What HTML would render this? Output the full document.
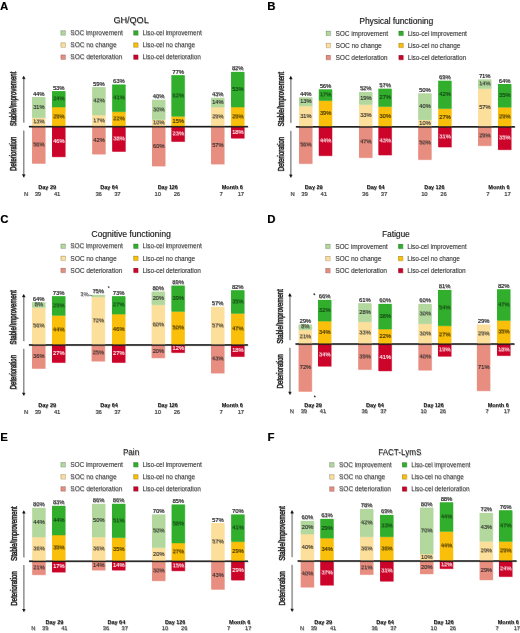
<!DOCTYPE html>
<html><head><meta charset="utf-8"><style>
html,body{margin:0;padding:0;background:#fff;}
body{width:520px;height:633px;overflow:hidden;}
svg{display:block;font-family:"Liberation Sans", sans-serif;}
#wrap{will-change:transform;width:520px;height:633px;}
</style></head><body><div id="wrap">
<svg width="520" height="633" viewBox="0 0 520 633">
<rect x="0" y="0" width="520" height="633" fill="#fff"/>
<g id="cc" transform="translate(-0.25,-0.25)">
<text x="0.30" y="10.00" font-size="11.2" fill="#000" font-weight="bold">A</text>
<text x="131.30" y="23.70" font-size="9.3" fill="#1a1a1a" text-anchor="middle" textLength="35.30" lengthAdjust="spacingAndGlyphs">GH/QOL</text>
<rect x="61.10" y="30.90" width="4.40" height="4.40" fill="#b2d89e" stroke="rgba(0,0,0,0.3)" stroke-width="0.5"/>
<text x="70.60" y="35.40" font-size="6.5" fill="#3a3a3a" textLength="52.50" lengthAdjust="spacingAndGlyphs">SOC improvement</text>
<rect x="133.80" y="30.90" width="4.40" height="4.40" fill="#30ae2c" stroke="rgba(0,0,0,0.3)" stroke-width="0.5"/>
<text x="142.70" y="35.40" font-size="6.5" fill="#3a3a3a" textLength="59.20" lengthAdjust="spacingAndGlyphs">Liso-cel improvement</text>
<rect x="61.10" y="43.00" width="4.40" height="4.40" fill="#fddf9c" stroke="rgba(0,0,0,0.3)" stroke-width="0.5"/>
<text x="70.60" y="47.50" font-size="6.5" fill="#3a3a3a" textLength="46.20" lengthAdjust="spacingAndGlyphs">SOC no change</text>
<rect x="133.80" y="43.00" width="4.40" height="4.40" fill="#f9bf0a" stroke="rgba(0,0,0,0.3)" stroke-width="0.5"/>
<text x="142.70" y="47.50" font-size="6.5" fill="#3a3a3a" textLength="52.50" lengthAdjust="spacingAndGlyphs">Liso-cel no change</text>
<rect x="61.10" y="55.10" width="4.40" height="4.40" fill="#e88e80" stroke="rgba(0,0,0,0.3)" stroke-width="0.5"/>
<text x="70.60" y="59.60" font-size="6.5" fill="#3a3a3a" textLength="51.80" lengthAdjust="spacingAndGlyphs">SOC deterioration</text>
<rect x="133.80" y="55.10" width="4.40" height="4.40" fill="#cc0429" stroke="rgba(0,0,0,0.3)" stroke-width="0.5"/>
<text x="142.70" y="59.60" font-size="6.5" fill="#3a3a3a" textLength="58.30" lengthAdjust="spacingAndGlyphs">Liso-cel deterioration</text>
<line x1="23.90" y1="78.50" x2="23.90" y2="122.80" stroke="#8c8c8c" stroke-width="1.2"/>
<line x1="23.90" y1="130.70" x2="23.90" y2="175.00" stroke="#8c8c8c" stroke-width="1.2"/>
<path d="M22.30 79.00 L23.90 75.90 L25.50 79.00 Z" fill="#111"/>
<path d="M22.30 174.60 L23.90 177.70 L25.50 174.60 Z" fill="#111"/>
<text x="16.70" y="99.10" font-size="8.6" fill="#222" stroke="#222" stroke-width="0.35" text-anchor="middle" textLength="54.4" lengthAdjust="spacingAndGlyphs" transform="rotate(-90 16.70 99.10)">Stable/Improvement</text>
<text x="16.70" y="154.00" font-size="8.6" fill="#222" stroke="#222" stroke-width="0.35" text-anchor="middle" textLength="34.2" lengthAdjust="spacingAndGlyphs" transform="rotate(-90 16.70 154.00)">Deterioration</text>
<rect x="32.28" y="117.92" width="13.25" height="8.63" fill="#fddf9c"/>
<rect x="32.28" y="97.33" width="13.25" height="20.58" fill="#b2d89e"/>
<rect x="32.28" y="126.55" width="13.25" height="37.18" fill="#e88e80"/>
<text x="38.91" y="123.58" font-size="5.75" fill="#262626" text-anchor="middle" stroke="#262626" stroke-width="0.12">13%</text>
<text x="38.91" y="108.98" font-size="5.75" fill="#262626" text-anchor="middle" stroke="#262626" stroke-width="0.12">31%</text>
<text x="38.91" y="146.49" font-size="5.75" fill="#262626" text-anchor="middle" stroke="#262626" stroke-width="0.12">56%</text>
<text x="38.91" y="95.83" font-size="5.75" fill="#2e2e2e" text-anchor="middle" stroke="#2e2e2e" stroke-width="0.12">44%</text>
<rect x="52.28" y="107.29" width="13.25" height="19.26" fill="#f9bf0a"/>
<rect x="52.28" y="91.36" width="13.25" height="15.94" fill="#30ae2c"/>
<rect x="52.28" y="126.55" width="13.25" height="30.54" fill="#cc0429"/>
<text x="58.91" y="118.27" font-size="5.75" fill="#2e2400" text-anchor="middle" stroke="#2e2400" stroke-width="0.12">29%</text>
<text x="58.91" y="100.68" font-size="5.75" fill="#133a13" text-anchor="middle" stroke="#133a13" stroke-width="0.12">24%</text>
<text x="58.91" y="143.17" font-size="5.75" fill="#ffffff" text-anchor="middle" stroke="#ffffff" stroke-width="0.12">46%</text>
<text x="58.91" y="89.86" font-size="5.75" fill="#2e2e2e" text-anchor="middle" stroke="#2e2e2e" stroke-width="0.12">53%</text>
<rect x="92.42" y="115.26" width="13.25" height="11.29" fill="#fddf9c"/>
<rect x="92.42" y="87.37" width="13.25" height="27.89" fill="#b2d89e"/>
<rect x="92.42" y="126.55" width="13.25" height="27.89" fill="#e88e80"/>
<text x="99.05" y="122.26" font-size="5.75" fill="#262626" text-anchor="middle" stroke="#262626" stroke-width="0.12">17%</text>
<text x="99.05" y="102.67" font-size="5.75" fill="#262626" text-anchor="middle" stroke="#262626" stroke-width="0.12">42%</text>
<text x="99.05" y="141.84" font-size="5.75" fill="#262626" text-anchor="middle" stroke="#262626" stroke-width="0.12">42%</text>
<text x="99.05" y="85.87" font-size="5.75" fill="#2e2e2e" text-anchor="middle" stroke="#2e2e2e" stroke-width="0.12">59%</text>
<rect x="112.42" y="111.94" width="13.25" height="14.61" fill="#f9bf0a"/>
<rect x="112.42" y="84.72" width="13.25" height="27.22" fill="#30ae2c"/>
<rect x="112.42" y="126.55" width="13.25" height="25.23" fill="#cc0429"/>
<text x="119.05" y="120.60" font-size="5.75" fill="#2e2400" text-anchor="middle" stroke="#2e2400" stroke-width="0.12">22%</text>
<text x="119.05" y="99.68" font-size="5.75" fill="#133a13" text-anchor="middle" stroke="#133a13" stroke-width="0.12">41%</text>
<text x="119.05" y="140.52" font-size="5.75" fill="#ffffff" text-anchor="middle" stroke="#ffffff" stroke-width="0.12">38%</text>
<text x="119.05" y="83.22" font-size="5.75" fill="#2e2e2e" text-anchor="middle" stroke="#2e2e2e" stroke-width="0.12">63%</text>
<rect x="152.22" y="119.91" width="13.25" height="6.64" fill="#fddf9c"/>
<rect x="152.22" y="99.99" width="13.25" height="19.92" fill="#b2d89e"/>
<rect x="152.22" y="126.55" width="13.25" height="39.84" fill="#e88e80"/>
<text x="158.84" y="124.58" font-size="5.75" fill="#262626" text-anchor="middle" stroke="#262626" stroke-width="0.12">10%</text>
<text x="158.84" y="111.30" font-size="5.75" fill="#262626" text-anchor="middle" stroke="#262626" stroke-width="0.12">30%</text>
<text x="158.84" y="147.82" font-size="5.75" fill="#262626" text-anchor="middle" stroke="#262626" stroke-width="0.12">60%</text>
<text x="158.84" y="98.49" font-size="5.75" fill="#2e2e2e" text-anchor="middle" stroke="#2e2e2e" stroke-width="0.12">40%</text>
<rect x="171.62" y="116.59" width="13.25" height="9.96" fill="#f9bf0a"/>
<rect x="171.62" y="75.42" width="13.25" height="41.17" fill="#30ae2c"/>
<rect x="171.62" y="126.55" width="13.25" height="15.27" fill="#cc0429"/>
<text x="178.25" y="122.92" font-size="5.75" fill="#2e2400" text-anchor="middle" stroke="#2e2400" stroke-width="0.12">15%</text>
<text x="178.25" y="97.36" font-size="5.75" fill="#133a13" text-anchor="middle" stroke="#133a13" stroke-width="0.12">62%</text>
<text x="178.25" y="135.54" font-size="5.75" fill="#ffffff" text-anchor="middle" stroke="#ffffff" stroke-width="0.12">23%</text>
<text x="178.25" y="73.92" font-size="5.75" fill="#2e2e2e" text-anchor="middle" stroke="#2e2e2e" stroke-width="0.12">77%</text>
<rect x="211.28" y="107.29" width="13.25" height="19.26" fill="#fddf9c"/>
<rect x="211.28" y="98.00" width="13.25" height="9.30" fill="#b2d89e"/>
<rect x="211.28" y="126.55" width="13.25" height="37.85" fill="#e88e80"/>
<text x="217.91" y="118.27" font-size="5.75" fill="#262626" text-anchor="middle" stroke="#262626" stroke-width="0.12">29%</text>
<text x="217.91" y="104.00" font-size="5.75" fill="#262626" text-anchor="middle" stroke="#262626" stroke-width="0.12">14%</text>
<text x="217.91" y="146.82" font-size="5.75" fill="#262626" text-anchor="middle" stroke="#262626" stroke-width="0.12">57%</text>
<text x="217.91" y="96.50" font-size="5.75" fill="#2e2e2e" text-anchor="middle" stroke="#2e2e2e" stroke-width="0.12">43%</text>
<rect x="231.28" y="107.29" width="13.25" height="19.26" fill="#f9bf0a"/>
<rect x="231.28" y="72.10" width="13.25" height="35.19" fill="#30ae2c"/>
<rect x="231.28" y="126.55" width="13.25" height="11.95" fill="#cc0429"/>
<text x="237.91" y="118.27" font-size="5.75" fill="#2e2400" text-anchor="middle" stroke="#2e2400" stroke-width="0.12">29%</text>
<text x="237.91" y="91.05" font-size="5.75" fill="#133a13" text-anchor="middle" stroke="#133a13" stroke-width="0.12">53%</text>
<text x="237.91" y="133.88" font-size="5.75" fill="#ffffff" text-anchor="middle" stroke="#ffffff" stroke-width="0.12">18%</text>
<text x="237.91" y="70.60" font-size="5.75" fill="#2e2e2e" text-anchor="middle" stroke="#2e2e2e" stroke-width="0.12">82%</text>
<rect x="29.10" y="126.10" width="219.00" height="1.40" fill="#1a1a1a"/>
<text x="47.40" y="189.60" font-size="5.6" fill="#111" text-anchor="middle" font-weight="bold" textLength="17.80" lengthAdjust="spacingAndGlyphs">Day 29</text>
<text x="38.10" y="196.00" font-size="5.6" fill="#444" text-anchor="middle" stroke="#444" stroke-width="0.12">39</text>
<text x="57.30" y="196.00" font-size="5.6" fill="#444" text-anchor="middle" stroke="#444" stroke-width="0.12">41</text>
<text x="109.30" y="189.60" font-size="5.6" fill="#111" text-anchor="middle" font-weight="bold" textLength="17.80" lengthAdjust="spacingAndGlyphs">Day 64</text>
<text x="98.85" y="196.00" font-size="5.6" fill="#444" text-anchor="middle" stroke="#444" stroke-width="0.12">36</text>
<text x="117.60" y="196.00" font-size="5.6" fill="#444" text-anchor="middle" stroke="#444" stroke-width="0.12">37</text>
<text x="168.00" y="189.60" font-size="5.6" fill="#111" text-anchor="middle" font-weight="bold" textLength="20.10" lengthAdjust="spacingAndGlyphs">Day 126</text>
<text x="157.90" y="196.00" font-size="5.6" fill="#444" text-anchor="middle" stroke="#444" stroke-width="0.12">10</text>
<text x="177.10" y="196.00" font-size="5.6" fill="#444" text-anchor="middle" stroke="#444" stroke-width="0.12">26</text>
<text x="232.60" y="189.60" font-size="5.6" fill="#111" text-anchor="middle" font-weight="bold" textLength="21.20" lengthAdjust="spacingAndGlyphs">Month 6</text>
<text x="221.40" y="196.00" font-size="5.6" fill="#444" text-anchor="middle" stroke="#444" stroke-width="0.12">7</text>
<text x="241.10" y="196.00" font-size="5.6" fill="#444" text-anchor="middle" stroke="#444" stroke-width="0.12">17</text>
<text x="24.20" y="196.00" font-size="5.6" fill="#444" stroke="#444" stroke-width="0.12">N</text>
<text x="267.60" y="10.00" font-size="11.2" fill="#000" font-weight="bold">B</text>
<text x="396.50" y="24.10" font-size="9.3" fill="#1a1a1a" text-anchor="middle" textLength="73.80" lengthAdjust="spacingAndGlyphs">Physical functioning</text>
<rect x="326.30" y="31.30" width="4.40" height="4.40" fill="#b2d89e" stroke="rgba(0,0,0,0.3)" stroke-width="0.5"/>
<text x="335.80" y="35.80" font-size="6.5" fill="#3a3a3a" textLength="52.50" lengthAdjust="spacingAndGlyphs">SOC improvement</text>
<rect x="399.00" y="31.30" width="4.40" height="4.40" fill="#30ae2c" stroke="rgba(0,0,0,0.3)" stroke-width="0.5"/>
<text x="407.90" y="35.80" font-size="6.5" fill="#3a3a3a" textLength="59.20" lengthAdjust="spacingAndGlyphs">Liso-cel improvement</text>
<rect x="326.30" y="43.40" width="4.40" height="4.40" fill="#fddf9c" stroke="rgba(0,0,0,0.3)" stroke-width="0.5"/>
<text x="335.80" y="47.90" font-size="6.5" fill="#3a3a3a" textLength="46.20" lengthAdjust="spacingAndGlyphs">SOC no change</text>
<rect x="399.00" y="43.40" width="4.40" height="4.40" fill="#f9bf0a" stroke="rgba(0,0,0,0.3)" stroke-width="0.5"/>
<text x="407.90" y="47.90" font-size="6.5" fill="#3a3a3a" textLength="52.50" lengthAdjust="spacingAndGlyphs">Liso-cel no change</text>
<rect x="326.30" y="55.50" width="4.40" height="4.40" fill="#e88e80" stroke="rgba(0,0,0,0.3)" stroke-width="0.5"/>
<text x="335.80" y="60.00" font-size="6.5" fill="#3a3a3a" textLength="51.80" lengthAdjust="spacingAndGlyphs">SOC deterioration</text>
<rect x="399.00" y="55.50" width="4.40" height="4.40" fill="#cc0429" stroke="rgba(0,0,0,0.3)" stroke-width="0.5"/>
<text x="407.90" y="60.00" font-size="6.5" fill="#3a3a3a" textLength="58.30" lengthAdjust="spacingAndGlyphs">Liso-cel deterioration</text>
<line x1="290.98" y1="78.70" x2="290.98" y2="123.00" stroke="#8c8c8c" stroke-width="1.2"/>
<line x1="290.98" y1="130.90" x2="290.98" y2="175.20" stroke="#8c8c8c" stroke-width="1.2"/>
<path d="M289.38 79.20 L290.98 76.10 L292.58 79.20 Z" fill="#111"/>
<path d="M289.38 174.80 L290.98 177.90 L292.58 174.80 Z" fill="#111"/>
<text x="283.78" y="99.30" font-size="8.6" fill="#222" stroke="#222" stroke-width="0.35" text-anchor="middle" textLength="54.4" lengthAdjust="spacingAndGlyphs" transform="rotate(-90 283.78 99.30)">Stable/Improvement</text>
<text x="283.78" y="154.20" font-size="8.6" fill="#222" stroke="#222" stroke-width="0.35" text-anchor="middle" textLength="34.2" lengthAdjust="spacingAndGlyphs" transform="rotate(-90 283.78 154.20)">Deterioration</text>
<rect x="299.26" y="106.17" width="13.25" height="20.58" fill="#fddf9c"/>
<rect x="299.26" y="97.53" width="13.25" height="8.63" fill="#b2d89e"/>
<rect x="299.26" y="126.75" width="13.25" height="37.18" fill="#e88e80"/>
<text x="305.89" y="117.81" font-size="5.75" fill="#262626" text-anchor="middle" stroke="#262626" stroke-width="0.12">31%</text>
<text x="305.89" y="103.20" font-size="5.75" fill="#262626" text-anchor="middle" stroke="#262626" stroke-width="0.12">13%</text>
<text x="305.89" y="146.69" font-size="5.75" fill="#262626" text-anchor="middle" stroke="#262626" stroke-width="0.12">56%</text>
<text x="305.89" y="96.03" font-size="5.75" fill="#2e2e2e" text-anchor="middle" stroke="#2e2e2e" stroke-width="0.12">44%</text>
<rect x="319.02" y="100.85" width="13.25" height="25.90" fill="#f9bf0a"/>
<rect x="319.02" y="89.57" width="13.25" height="11.29" fill="#30ae2c"/>
<rect x="319.02" y="126.75" width="13.25" height="29.22" fill="#cc0429"/>
<text x="325.65" y="115.15" font-size="5.75" fill="#2e2400" text-anchor="middle" stroke="#2e2400" stroke-width="0.12">39%</text>
<text x="325.65" y="96.56" font-size="5.75" fill="#133a13" text-anchor="middle" stroke="#133a13" stroke-width="0.12">17%</text>
<text x="325.65" y="142.71" font-size="5.75" fill="#ffffff" text-anchor="middle" stroke="#ffffff" stroke-width="0.12">44%</text>
<text x="325.65" y="88.07" font-size="5.75" fill="#2e2e2e" text-anchor="middle" stroke="#2e2e2e" stroke-width="0.12">56%</text>
<rect x="359.26" y="104.84" width="13.25" height="21.91" fill="#fddf9c"/>
<rect x="359.26" y="92.22" width="13.25" height="12.62" fill="#b2d89e"/>
<rect x="359.26" y="126.75" width="13.25" height="31.21" fill="#e88e80"/>
<text x="365.89" y="117.14" font-size="5.75" fill="#262626" text-anchor="middle" stroke="#262626" stroke-width="0.12">33%</text>
<text x="365.89" y="99.88" font-size="5.75" fill="#262626" text-anchor="middle" stroke="#262626" stroke-width="0.12">19%</text>
<text x="365.89" y="143.70" font-size="5.75" fill="#262626" text-anchor="middle" stroke="#262626" stroke-width="0.12">47%</text>
<text x="365.89" y="90.72" font-size="5.75" fill="#2e2e2e" text-anchor="middle" stroke="#2e2e2e" stroke-width="0.12">52%</text>
<rect x="378.62" y="106.83" width="13.25" height="19.92" fill="#f9bf0a"/>
<rect x="378.62" y="88.90" width="13.25" height="17.93" fill="#30ae2c"/>
<rect x="378.62" y="126.75" width="13.25" height="28.55" fill="#cc0429"/>
<text x="385.25" y="118.14" font-size="5.75" fill="#2e2400" text-anchor="middle" stroke="#2e2400" stroke-width="0.12">30%</text>
<text x="385.25" y="99.22" font-size="5.75" fill="#133a13" text-anchor="middle" stroke="#133a13" stroke-width="0.12">27%</text>
<text x="385.25" y="142.38" font-size="5.75" fill="#ffffff" text-anchor="middle" stroke="#ffffff" stroke-width="0.12">43%</text>
<text x="385.25" y="87.40" font-size="5.75" fill="#2e2e2e" text-anchor="middle" stroke="#2e2e2e" stroke-width="0.12">57%</text>
<rect x="418.42" y="120.11" width="13.25" height="6.64" fill="#fddf9c"/>
<rect x="418.42" y="93.55" width="13.25" height="26.56" fill="#b2d89e"/>
<rect x="418.42" y="126.75" width="13.25" height="33.20" fill="#e88e80"/>
<text x="425.05" y="124.78" font-size="5.75" fill="#262626" text-anchor="middle" stroke="#262626" stroke-width="0.12">10%</text>
<text x="425.05" y="108.18" font-size="5.75" fill="#262626" text-anchor="middle" stroke="#262626" stroke-width="0.12">40%</text>
<text x="425.05" y="144.70" font-size="5.75" fill="#262626" text-anchor="middle" stroke="#262626" stroke-width="0.12">50%</text>
<text x="425.05" y="92.05" font-size="5.75" fill="#2e2e2e" text-anchor="middle" stroke="#2e2e2e" stroke-width="0.12">50%</text>
<rect x="438.42" y="108.82" width="13.25" height="17.93" fill="#f9bf0a"/>
<rect x="438.42" y="80.93" width="13.25" height="27.89" fill="#30ae2c"/>
<rect x="438.42" y="126.75" width="13.25" height="20.58" fill="#cc0429"/>
<text x="445.05" y="119.14" font-size="5.75" fill="#2e2400" text-anchor="middle" stroke="#2e2400" stroke-width="0.12">27%</text>
<text x="445.05" y="96.23" font-size="5.75" fill="#133a13" text-anchor="middle" stroke="#133a13" stroke-width="0.12">42%</text>
<text x="445.05" y="138.39" font-size="5.75" fill="#ffffff" text-anchor="middle" stroke="#ffffff" stroke-width="0.12">31%</text>
<text x="445.05" y="79.43" font-size="5.75" fill="#2e2e2e" text-anchor="middle" stroke="#2e2e2e" stroke-width="0.12">69%</text>
<rect x="478.26" y="88.90" width="13.25" height="37.85" fill="#fddf9c"/>
<rect x="478.26" y="79.61" width="13.25" height="9.30" fill="#b2d89e"/>
<rect x="478.26" y="126.75" width="13.25" height="19.26" fill="#e88e80"/>
<text x="484.89" y="109.18" font-size="5.75" fill="#262626" text-anchor="middle" stroke="#262626" stroke-width="0.12">57%</text>
<text x="484.89" y="85.60" font-size="5.75" fill="#262626" text-anchor="middle" stroke="#262626" stroke-width="0.12">14%</text>
<text x="484.89" y="137.73" font-size="5.75" fill="#262626" text-anchor="middle" stroke="#262626" stroke-width="0.12">29%</text>
<text x="484.89" y="78.11" font-size="5.75" fill="#2e2e2e" text-anchor="middle" stroke="#2e2e2e" stroke-width="0.12">71%</text>
<rect x="498.22" y="107.49" width="13.25" height="19.26" fill="#f9bf0a"/>
<rect x="498.22" y="84.25" width="13.25" height="23.24" fill="#30ae2c"/>
<rect x="498.22" y="126.75" width="13.25" height="23.24" fill="#cc0429"/>
<text x="504.85" y="118.47" font-size="5.75" fill="#2e2400" text-anchor="middle" stroke="#2e2400" stroke-width="0.12">29%</text>
<text x="504.85" y="97.22" font-size="5.75" fill="#133a13" text-anchor="middle" stroke="#133a13" stroke-width="0.12">35%</text>
<text x="504.85" y="139.72" font-size="5.75" fill="#ffffff" text-anchor="middle" stroke="#ffffff" stroke-width="0.12">35%</text>
<text x="504.85" y="82.75" font-size="5.75" fill="#2e2e2e" text-anchor="middle" stroke="#2e2e2e" stroke-width="0.12">64%</text>
<rect x="296.08" y="126.30" width="219.00" height="1.40" fill="#1a1a1a"/>
<text x="314.00" y="189.60" font-size="5.6" fill="#111" text-anchor="middle" font-weight="bold" textLength="17.80" lengthAdjust="spacingAndGlyphs">Day 29</text>
<text x="304.70" y="196.00" font-size="5.6" fill="#444" text-anchor="middle" stroke="#444" stroke-width="0.12">39</text>
<text x="323.90" y="196.00" font-size="5.6" fill="#444" text-anchor="middle" stroke="#444" stroke-width="0.12">41</text>
<text x="375.90" y="189.60" font-size="5.6" fill="#111" text-anchor="middle" font-weight="bold" textLength="17.80" lengthAdjust="spacingAndGlyphs">Day 64</text>
<text x="365.45" y="196.00" font-size="5.6" fill="#444" text-anchor="middle" stroke="#444" stroke-width="0.12">36</text>
<text x="384.20" y="196.00" font-size="5.6" fill="#444" text-anchor="middle" stroke="#444" stroke-width="0.12">37</text>
<text x="434.60" y="189.60" font-size="5.6" fill="#111" text-anchor="middle" font-weight="bold" textLength="20.10" lengthAdjust="spacingAndGlyphs">Day 126</text>
<text x="424.50" y="196.00" font-size="5.6" fill="#444" text-anchor="middle" stroke="#444" stroke-width="0.12">10</text>
<text x="443.70" y="196.00" font-size="5.6" fill="#444" text-anchor="middle" stroke="#444" stroke-width="0.12">26</text>
<text x="499.20" y="189.60" font-size="5.6" fill="#111" text-anchor="middle" font-weight="bold" textLength="21.20" lengthAdjust="spacingAndGlyphs">Month 6</text>
<text x="488.00" y="196.00" font-size="5.6" fill="#444" text-anchor="middle" stroke="#444" stroke-width="0.12">7</text>
<text x="507.70" y="196.00" font-size="5.6" fill="#444" text-anchor="middle" stroke="#444" stroke-width="0.12">17</text>
<text x="290.80" y="196.00" font-size="5.6" fill="#444" stroke="#444" stroke-width="0.12">N</text>
<text x="0.60" y="223.20" font-size="11.2" fill="#000" font-weight="bold">C</text>
<text x="131.30" y="237.00" font-size="9.3" fill="#1a1a1a" text-anchor="middle" textLength="79.40" lengthAdjust="spacingAndGlyphs">Cognitive functioning</text>
<rect x="61.10" y="244.20" width="4.40" height="4.40" fill="#b2d89e" stroke="rgba(0,0,0,0.3)" stroke-width="0.5"/>
<text x="70.60" y="248.70" font-size="6.5" fill="#3a3a3a" textLength="52.50" lengthAdjust="spacingAndGlyphs">SOC improvement</text>
<rect x="133.80" y="244.20" width="4.40" height="4.40" fill="#30ae2c" stroke="rgba(0,0,0,0.3)" stroke-width="0.5"/>
<text x="142.70" y="248.70" font-size="6.5" fill="#3a3a3a" textLength="59.20" lengthAdjust="spacingAndGlyphs">Liso-cel improvement</text>
<rect x="61.10" y="256.30" width="4.40" height="4.40" fill="#fddf9c" stroke="rgba(0,0,0,0.3)" stroke-width="0.5"/>
<text x="70.60" y="260.80" font-size="6.5" fill="#3a3a3a" textLength="46.20" lengthAdjust="spacingAndGlyphs">SOC no change</text>
<rect x="133.80" y="256.30" width="4.40" height="4.40" fill="#f9bf0a" stroke="rgba(0,0,0,0.3)" stroke-width="0.5"/>
<text x="142.70" y="260.80" font-size="6.5" fill="#3a3a3a" textLength="52.50" lengthAdjust="spacingAndGlyphs">Liso-cel no change</text>
<rect x="61.10" y="268.40" width="4.40" height="4.40" fill="#e88e80" stroke="rgba(0,0,0,0.3)" stroke-width="0.5"/>
<text x="70.60" y="272.90" font-size="6.5" fill="#3a3a3a" textLength="51.80" lengthAdjust="spacingAndGlyphs">SOC deterioration</text>
<rect x="133.80" y="268.40" width="4.40" height="4.40" fill="#cc0429" stroke="rgba(0,0,0,0.3)" stroke-width="0.5"/>
<text x="142.70" y="272.90" font-size="6.5" fill="#3a3a3a" textLength="58.30" lengthAdjust="spacingAndGlyphs">Liso-cel deterioration</text>
<line x1="23.90" y1="296.85" x2="23.90" y2="341.15" stroke="#8c8c8c" stroke-width="1.2"/>
<line x1="23.90" y1="349.05" x2="23.90" y2="393.35" stroke="#8c8c8c" stroke-width="1.2"/>
<path d="M22.30 297.35 L23.90 294.25 L25.50 297.35 Z" fill="#111"/>
<path d="M22.30 392.95 L23.90 396.05 L25.50 392.95 Z" fill="#111"/>
<text x="16.70" y="317.45" font-size="8.6" fill="#222" stroke="#222" stroke-width="0.35" text-anchor="middle" textLength="54.4" lengthAdjust="spacingAndGlyphs" transform="rotate(-90 16.70 317.45)">Stable/Improvement</text>
<text x="16.70" y="372.35" font-size="8.6" fill="#222" stroke="#222" stroke-width="0.35" text-anchor="middle" textLength="34.2" lengthAdjust="spacingAndGlyphs" transform="rotate(-90 16.70 372.35)">Deterioration</text>
<rect x="32.26" y="307.72" width="13.25" height="37.18" fill="#fddf9c"/>
<rect x="32.26" y="302.40" width="13.25" height="5.31" fill="#b2d89e"/>
<rect x="32.26" y="344.90" width="13.25" height="23.90" fill="#e88e80"/>
<text x="38.88" y="327.66" font-size="5.75" fill="#262626" text-anchor="middle" stroke="#262626" stroke-width="0.12">56%</text>
<text x="38.88" y="306.41" font-size="5.75" fill="#262626" text-anchor="middle" stroke="#262626" stroke-width="0.12">8%</text>
<text x="38.88" y="358.20" font-size="5.75" fill="#262626" text-anchor="middle" stroke="#262626" stroke-width="0.12">36%</text>
<text x="38.88" y="300.90" font-size="5.75" fill="#2e2e2e" text-anchor="middle" stroke="#2e2e2e" stroke-width="0.12">64%</text>
<rect x="52.22" y="315.68" width="13.25" height="29.22" fill="#f9bf0a"/>
<rect x="52.22" y="296.43" width="13.25" height="19.26" fill="#30ae2c"/>
<rect x="52.22" y="344.90" width="13.25" height="17.93" fill="#cc0429"/>
<text x="58.84" y="331.64" font-size="5.75" fill="#2e2400" text-anchor="middle" stroke="#2e2400" stroke-width="0.12">44%</text>
<text x="58.84" y="307.41" font-size="5.75" fill="#133a13" text-anchor="middle" stroke="#133a13" stroke-width="0.12">29%</text>
<text x="58.84" y="355.21" font-size="5.75" fill="#ffffff" text-anchor="middle" stroke="#ffffff" stroke-width="0.12">27%</text>
<text x="58.84" y="294.93" font-size="5.75" fill="#2e2e2e" text-anchor="middle" stroke="#2e2e2e" stroke-width="0.12">73%</text>
<rect x="91.82" y="297.09" width="13.25" height="47.81" fill="#fddf9c"/>
<rect x="91.82" y="295.10" width="13.25" height="1.99" fill="#b2d89e"/>
<rect x="91.82" y="344.90" width="13.25" height="16.60" fill="#e88e80"/>
<text x="98.44" y="322.35" font-size="5.75" fill="#262626" text-anchor="middle" stroke="#262626" stroke-width="0.12">72%</text>
<text x="98.44" y="354.55" font-size="5.75" fill="#262626" text-anchor="middle" stroke="#262626" stroke-width="0.12">25%</text>
<text x="98.44" y="293.60" font-size="5.75" fill="#2e2e2e" text-anchor="middle" stroke="#2e2e2e" stroke-width="0.12">75%</text>
<rect x="112.22" y="314.36" width="13.25" height="30.54" fill="#f9bf0a"/>
<rect x="112.22" y="296.43" width="13.25" height="17.93" fill="#30ae2c"/>
<rect x="112.22" y="344.90" width="13.25" height="17.93" fill="#cc0429"/>
<text x="118.84" y="330.98" font-size="5.75" fill="#2e2400" text-anchor="middle" stroke="#2e2400" stroke-width="0.12">46%</text>
<text x="118.84" y="306.74" font-size="5.75" fill="#133a13" text-anchor="middle" stroke="#133a13" stroke-width="0.12">27%</text>
<text x="118.84" y="355.21" font-size="5.75" fill="#ffffff" text-anchor="middle" stroke="#ffffff" stroke-width="0.12">27%</text>
<text x="118.84" y="294.93" font-size="5.75" fill="#2e2e2e" text-anchor="middle" stroke="#2e2e2e" stroke-width="0.12">73%</text>
<rect x="151.82" y="305.06" width="13.25" height="39.84" fill="#fddf9c"/>
<rect x="151.82" y="291.78" width="13.25" height="13.28" fill="#b2d89e"/>
<rect x="151.82" y="344.90" width="13.25" height="13.28" fill="#e88e80"/>
<text x="158.44" y="326.33" font-size="5.75" fill="#262626" text-anchor="middle" stroke="#262626" stroke-width="0.12">60%</text>
<text x="158.44" y="299.77" font-size="5.75" fill="#262626" text-anchor="middle" stroke="#262626" stroke-width="0.12">20%</text>
<text x="158.44" y="352.89" font-size="5.75" fill="#262626" text-anchor="middle" stroke="#262626" stroke-width="0.12">20%</text>
<text x="158.44" y="290.28" font-size="5.75" fill="#2e2e2e" text-anchor="middle" stroke="#2e2e2e" stroke-width="0.12">80%</text>
<rect x="171.62" y="311.70" width="13.25" height="33.20" fill="#f9bf0a"/>
<rect x="171.62" y="285.80" width="13.25" height="25.90" fill="#30ae2c"/>
<rect x="171.62" y="344.90" width="13.25" height="7.97" fill="#cc0429"/>
<text x="178.25" y="329.65" font-size="5.75" fill="#2e2400" text-anchor="middle" stroke="#2e2400" stroke-width="0.12">50%</text>
<text x="178.25" y="300.10" font-size="5.75" fill="#133a13" text-anchor="middle" stroke="#133a13" stroke-width="0.12">39%</text>
<text x="178.25" y="350.23" font-size="5.75" fill="#ffffff" text-anchor="middle" stroke="#ffffff" stroke-width="0.12">12%</text>
<text x="178.25" y="284.30" font-size="5.75" fill="#2e2e2e" text-anchor="middle" stroke="#2e2e2e" stroke-width="0.12">89%</text>
<rect x="211.26" y="307.05" width="13.25" height="37.85" fill="#fddf9c"/>
<rect x="211.26" y="344.90" width="13.25" height="28.55" fill="#e88e80"/>
<text x="217.88" y="327.33" font-size="5.75" fill="#262626" text-anchor="middle" stroke="#262626" stroke-width="0.12">57%</text>
<text x="217.88" y="360.53" font-size="5.75" fill="#262626" text-anchor="middle" stroke="#262626" stroke-width="0.12">43%</text>
<text x="217.88" y="305.55" font-size="5.75" fill="#2e2e2e" text-anchor="middle" stroke="#2e2e2e" stroke-width="0.12">57%</text>
<rect x="231.29" y="313.69" width="13.25" height="31.21" fill="#f9bf0a"/>
<rect x="231.29" y="290.45" width="13.25" height="23.24" fill="#30ae2c"/>
<rect x="231.29" y="344.90" width="13.25" height="11.95" fill="#cc0429"/>
<text x="237.91" y="330.65" font-size="5.75" fill="#2e2400" text-anchor="middle" stroke="#2e2400" stroke-width="0.12">47%</text>
<text x="237.91" y="303.42" font-size="5.75" fill="#133a13" text-anchor="middle" stroke="#133a13" stroke-width="0.12">35%</text>
<text x="237.91" y="352.23" font-size="5.75" fill="#ffffff" text-anchor="middle" stroke="#ffffff" stroke-width="0.12">18%</text>
<text x="237.91" y="288.95" font-size="5.75" fill="#2e2e2e" text-anchor="middle" stroke="#2e2e2e" stroke-width="0.12">82%</text>
<rect x="29.10" y="344.45" width="219.00" height="1.40" fill="#1a1a1a"/>
<text x="47.40" y="407.60" font-size="5.6" fill="#111" text-anchor="middle" font-weight="bold" textLength="17.80" lengthAdjust="spacingAndGlyphs">Day 29</text>
<text x="38.10" y="414.00" font-size="5.6" fill="#444" text-anchor="middle" stroke="#444" stroke-width="0.12">39</text>
<text x="57.30" y="414.00" font-size="5.6" fill="#444" text-anchor="middle" stroke="#444" stroke-width="0.12">41</text>
<text x="109.30" y="407.60" font-size="5.6" fill="#111" text-anchor="middle" font-weight="bold" textLength="17.80" lengthAdjust="spacingAndGlyphs">Day 64</text>
<text x="98.85" y="414.00" font-size="5.6" fill="#444" text-anchor="middle" stroke="#444" stroke-width="0.12">36</text>
<text x="117.60" y="414.00" font-size="5.6" fill="#444" text-anchor="middle" stroke="#444" stroke-width="0.12">37</text>
<text x="168.00" y="407.60" font-size="5.6" fill="#111" text-anchor="middle" font-weight="bold" textLength="20.10" lengthAdjust="spacingAndGlyphs">Day 126</text>
<text x="157.90" y="414.00" font-size="5.6" fill="#444" text-anchor="middle" stroke="#444" stroke-width="0.12">10</text>
<text x="177.10" y="414.00" font-size="5.6" fill="#444" text-anchor="middle" stroke="#444" stroke-width="0.12">26</text>
<text x="232.60" y="407.60" font-size="5.6" fill="#111" text-anchor="middle" font-weight="bold" textLength="21.20" lengthAdjust="spacingAndGlyphs">Month 6</text>
<text x="221.40" y="414.00" font-size="5.6" fill="#444" text-anchor="middle" stroke="#444" stroke-width="0.12">7</text>
<text x="241.10" y="414.00" font-size="5.6" fill="#444" text-anchor="middle" stroke="#444" stroke-width="0.12">17</text>
<text x="24.20" y="414.00" font-size="5.6" fill="#444" stroke="#444" stroke-width="0.12">N</text>
<text x="267.50" y="223.20" font-size="11.2" fill="#000" font-weight="bold">D</text>
<text x="396.10" y="237.20" font-size="9.3" fill="#1a1a1a" text-anchor="middle" textLength="27.70" lengthAdjust="spacingAndGlyphs">Fatigue</text>
<rect x="325.90" y="244.40" width="4.40" height="4.40" fill="#b2d89e" stroke="rgba(0,0,0,0.3)" stroke-width="0.5"/>
<text x="335.40" y="248.90" font-size="6.5" fill="#3a3a3a" textLength="52.50" lengthAdjust="spacingAndGlyphs">SOC improvement</text>
<rect x="398.60" y="244.40" width="4.40" height="4.40" fill="#30ae2c" stroke="rgba(0,0,0,0.3)" stroke-width="0.5"/>
<text x="407.50" y="248.90" font-size="6.5" fill="#3a3a3a" textLength="59.20" lengthAdjust="spacingAndGlyphs">Liso-cel improvement</text>
<rect x="325.90" y="256.50" width="4.40" height="4.40" fill="#fddf9c" stroke="rgba(0,0,0,0.3)" stroke-width="0.5"/>
<text x="335.40" y="261.00" font-size="6.5" fill="#3a3a3a" textLength="46.20" lengthAdjust="spacingAndGlyphs">SOC no change</text>
<rect x="398.60" y="256.50" width="4.40" height="4.40" fill="#f9bf0a" stroke="rgba(0,0,0,0.3)" stroke-width="0.5"/>
<text x="407.50" y="261.00" font-size="6.5" fill="#3a3a3a" textLength="52.50" lengthAdjust="spacingAndGlyphs">Liso-cel no change</text>
<rect x="325.90" y="268.60" width="4.40" height="4.40" fill="#e88e80" stroke="rgba(0,0,0,0.3)" stroke-width="0.5"/>
<text x="335.40" y="273.10" font-size="6.5" fill="#3a3a3a" textLength="51.80" lengthAdjust="spacingAndGlyphs">SOC deterioration</text>
<rect x="398.60" y="268.60" width="4.40" height="4.40" fill="#cc0429" stroke="rgba(0,0,0,0.3)" stroke-width="0.5"/>
<text x="407.50" y="273.10" font-size="6.5" fill="#3a3a3a" textLength="58.30" lengthAdjust="spacingAndGlyphs">Liso-cel deterioration</text>
<line x1="290.08" y1="295.90" x2="290.08" y2="340.20" stroke="#8c8c8c" stroke-width="1.2"/>
<line x1="290.08" y1="348.10" x2="290.08" y2="392.40" stroke="#8c8c8c" stroke-width="1.2"/>
<path d="M288.48 296.40 L290.08 293.30 L291.68 296.40 Z" fill="#111"/>
<path d="M288.48 392.00 L290.08 395.10 L291.68 392.00 Z" fill="#111"/>
<text x="282.88" y="316.50" font-size="8.6" fill="#222" stroke="#222" stroke-width="0.35" text-anchor="middle" textLength="54.4" lengthAdjust="spacingAndGlyphs" transform="rotate(-90 282.88 316.50)">Stable/Improvement</text>
<text x="282.88" y="371.40" font-size="8.6" fill="#222" stroke="#222" stroke-width="0.35" text-anchor="middle" textLength="34.2" lengthAdjust="spacingAndGlyphs" transform="rotate(-90 282.88 371.40)">Deterioration</text>
<rect x="298.82" y="330.01" width="13.25" height="13.94" fill="#fddf9c"/>
<rect x="298.82" y="324.69" width="13.25" height="5.31" fill="#b2d89e"/>
<rect x="298.82" y="343.95" width="13.25" height="47.81" fill="#e88e80"/>
<text x="305.45" y="338.33" font-size="5.75" fill="#262626" text-anchor="middle" stroke="#262626" stroke-width="0.12">21%</text>
<text x="305.45" y="328.70" font-size="5.75" fill="#262626" text-anchor="middle" stroke="#262626" stroke-width="0.12">8%</text>
<text x="305.45" y="369.20" font-size="5.75" fill="#262626" text-anchor="middle" stroke="#262626" stroke-width="0.12">72%</text>
<text x="305.45" y="323.19" font-size="5.75" fill="#2e2e2e" text-anchor="middle" stroke="#2e2e2e" stroke-width="0.12">29%</text>
<rect x="318.22" y="321.37" width="13.25" height="22.58" fill="#f9bf0a"/>
<rect x="318.22" y="300.13" width="13.25" height="21.25" fill="#30ae2c"/>
<rect x="318.22" y="343.95" width="13.25" height="22.58" fill="#cc0429"/>
<text x="324.85" y="334.01" font-size="5.75" fill="#2e2400" text-anchor="middle" stroke="#2e2400" stroke-width="0.12">34%</text>
<text x="324.85" y="312.10" font-size="5.75" fill="#133a13" text-anchor="middle" stroke="#133a13" stroke-width="0.12">32%</text>
<text x="324.85" y="356.59" font-size="5.75" fill="#ffffff" text-anchor="middle" stroke="#ffffff" stroke-width="0.12">34%</text>
<text x="324.85" y="298.63" font-size="5.75" fill="#2e2e2e" text-anchor="middle" stroke="#2e2e2e" stroke-width="0.12">66%</text>
<rect x="358.42" y="322.04" width="13.25" height="21.91" fill="#fddf9c"/>
<rect x="358.42" y="303.45" width="13.25" height="18.59" fill="#b2d89e"/>
<rect x="358.42" y="343.95" width="13.25" height="25.90" fill="#e88e80"/>
<text x="365.05" y="334.34" font-size="5.75" fill="#262626" text-anchor="middle" stroke="#262626" stroke-width="0.12">33%</text>
<text x="365.05" y="314.09" font-size="5.75" fill="#262626" text-anchor="middle" stroke="#262626" stroke-width="0.12">28%</text>
<text x="365.05" y="358.25" font-size="5.75" fill="#262626" text-anchor="middle" stroke="#262626" stroke-width="0.12">39%</text>
<text x="365.05" y="301.95" font-size="5.75" fill="#2e2e2e" text-anchor="middle" stroke="#2e2e2e" stroke-width="0.12">61%</text>
<rect x="378.62" y="329.34" width="13.25" height="14.61" fill="#f9bf0a"/>
<rect x="378.62" y="304.11" width="13.25" height="25.23" fill="#30ae2c"/>
<rect x="378.62" y="343.95" width="13.25" height="27.22" fill="#cc0429"/>
<text x="385.25" y="338.00" font-size="5.75" fill="#2e2400" text-anchor="middle" stroke="#2e2400" stroke-width="0.12">22%</text>
<text x="385.25" y="318.08" font-size="5.75" fill="#133a13" text-anchor="middle" stroke="#133a13" stroke-width="0.12">38%</text>
<text x="385.25" y="358.91" font-size="5.75" fill="#ffffff" text-anchor="middle" stroke="#ffffff" stroke-width="0.12">41%</text>
<text x="385.25" y="302.61" font-size="5.75" fill="#2e2e2e" text-anchor="middle" stroke="#2e2e2e" stroke-width="0.12">60%</text>
<rect x="418.62" y="324.03" width="13.25" height="19.92" fill="#fddf9c"/>
<rect x="418.62" y="304.11" width="13.25" height="19.92" fill="#b2d89e"/>
<rect x="418.62" y="343.95" width="13.25" height="26.56" fill="#e88e80"/>
<text x="425.25" y="335.34" font-size="5.75" fill="#262626" text-anchor="middle" stroke="#262626" stroke-width="0.12">30%</text>
<text x="425.25" y="315.42" font-size="5.75" fill="#262626" text-anchor="middle" stroke="#262626" stroke-width="0.12">30%</text>
<text x="425.25" y="358.58" font-size="5.75" fill="#262626" text-anchor="middle" stroke="#262626" stroke-width="0.12">40%</text>
<text x="425.25" y="302.61" font-size="5.75" fill="#2e2e2e" text-anchor="middle" stroke="#2e2e2e" stroke-width="0.12">60%</text>
<rect x="438.22" y="326.02" width="13.25" height="17.93" fill="#f9bf0a"/>
<rect x="438.22" y="290.17" width="13.25" height="35.86" fill="#30ae2c"/>
<rect x="438.22" y="343.95" width="13.25" height="12.62" fill="#cc0429"/>
<text x="444.85" y="336.34" font-size="5.75" fill="#2e2400" text-anchor="middle" stroke="#2e2400" stroke-width="0.12">27%</text>
<text x="444.85" y="309.44" font-size="5.75" fill="#133a13" text-anchor="middle" stroke="#133a13" stroke-width="0.12">54%</text>
<text x="444.85" y="351.61" font-size="5.75" fill="#ffffff" text-anchor="middle" stroke="#ffffff" stroke-width="0.12">19%</text>
<text x="444.85" y="288.67" font-size="5.75" fill="#2e2e2e" text-anchor="middle" stroke="#2e2e2e" stroke-width="0.12">81%</text>
<rect x="477.12" y="324.69" width="13.25" height="19.26" fill="#fddf9c"/>
<rect x="477.12" y="343.95" width="13.25" height="47.14" fill="#e88e80"/>
<text x="483.75" y="335.67" font-size="5.75" fill="#262626" text-anchor="middle" stroke="#262626" stroke-width="0.12">29%</text>
<text x="483.75" y="368.87" font-size="5.75" fill="#262626" text-anchor="middle" stroke="#262626" stroke-width="0.12">71%</text>
<text x="483.75" y="323.19" font-size="5.75" fill="#2e2e2e" text-anchor="middle" stroke="#2e2e2e" stroke-width="0.12">29%</text>
<rect x="497.28" y="320.71" width="13.25" height="23.24" fill="#f9bf0a"/>
<rect x="497.28" y="289.50" width="13.25" height="31.21" fill="#30ae2c"/>
<rect x="497.28" y="343.95" width="13.25" height="11.95" fill="#cc0429"/>
<text x="503.91" y="333.68" font-size="5.75" fill="#2e2400" text-anchor="middle" stroke="#2e2400" stroke-width="0.12">35%</text>
<text x="503.91" y="306.46" font-size="5.75" fill="#133a13" text-anchor="middle" stroke="#133a13" stroke-width="0.12">47%</text>
<text x="503.91" y="351.28" font-size="5.75" fill="#ffffff" text-anchor="middle" stroke="#ffffff" stroke-width="0.12">18%</text>
<text x="503.91" y="288.00" font-size="5.75" fill="#2e2e2e" text-anchor="middle" stroke="#2e2e2e" stroke-width="0.12">82%</text>
<rect x="295.64" y="343.50" width="219.00" height="1.40" fill="#1a1a1a"/>
<text x="313.30" y="407.30" font-size="5.6" fill="#111" text-anchor="middle" font-weight="bold" textLength="17.80" lengthAdjust="spacingAndGlyphs">Day 29</text>
<text x="304.00" y="413.70" font-size="5.6" fill="#444" text-anchor="middle" stroke="#444" stroke-width="0.12">39</text>
<text x="323.20" y="413.70" font-size="5.6" fill="#444" text-anchor="middle" stroke="#444" stroke-width="0.12">41</text>
<text x="375.20" y="407.30" font-size="5.6" fill="#111" text-anchor="middle" font-weight="bold" textLength="17.80" lengthAdjust="spacingAndGlyphs">Day 64</text>
<text x="364.75" y="413.70" font-size="5.6" fill="#444" text-anchor="middle" stroke="#444" stroke-width="0.12">36</text>
<text x="383.50" y="413.70" font-size="5.6" fill="#444" text-anchor="middle" stroke="#444" stroke-width="0.12">37</text>
<text x="433.90" y="407.30" font-size="5.6" fill="#111" text-anchor="middle" font-weight="bold" textLength="20.10" lengthAdjust="spacingAndGlyphs">Day 126</text>
<text x="423.80" y="413.70" font-size="5.6" fill="#444" text-anchor="middle" stroke="#444" stroke-width="0.12">10</text>
<text x="443.00" y="413.70" font-size="5.6" fill="#444" text-anchor="middle" stroke="#444" stroke-width="0.12">26</text>
<text x="498.50" y="407.30" font-size="5.6" fill="#111" text-anchor="middle" font-weight="bold" textLength="21.20" lengthAdjust="spacingAndGlyphs">Month 6</text>
<text x="487.30" y="413.70" font-size="5.6" fill="#444" text-anchor="middle" stroke="#444" stroke-width="0.12">7</text>
<text x="507.00" y="413.70" font-size="5.6" fill="#444" text-anchor="middle" stroke="#444" stroke-width="0.12">17</text>
<text x="290.10" y="413.70" font-size="5.6" fill="#444" stroke="#444" stroke-width="0.12">N</text>
<text x="0.60" y="441.00" font-size="11.2" fill="#000" font-weight="bold">E</text>
<text x="131.30" y="455.50" font-size="9.3" fill="#1a1a1a" text-anchor="middle" textLength="16.30" lengthAdjust="spacingAndGlyphs">Pain</text>
<rect x="61.10" y="462.70" width="4.40" height="4.40" fill="#b2d89e" stroke="rgba(0,0,0,0.3)" stroke-width="0.5"/>
<text x="70.60" y="467.20" font-size="6.5" fill="#3a3a3a" textLength="52.50" lengthAdjust="spacingAndGlyphs">SOC improvement</text>
<rect x="133.80" y="462.70" width="4.40" height="4.40" fill="#30ae2c" stroke="rgba(0,0,0,0.3)" stroke-width="0.5"/>
<text x="142.70" y="467.20" font-size="6.5" fill="#3a3a3a" textLength="59.20" lengthAdjust="spacingAndGlyphs">Liso-cel improvement</text>
<rect x="61.10" y="474.80" width="4.40" height="4.40" fill="#fddf9c" stroke="rgba(0,0,0,0.3)" stroke-width="0.5"/>
<text x="70.60" y="479.30" font-size="6.5" fill="#3a3a3a" textLength="46.20" lengthAdjust="spacingAndGlyphs">SOC no change</text>
<rect x="133.80" y="474.80" width="4.40" height="4.40" fill="#f9bf0a" stroke="rgba(0,0,0,0.3)" stroke-width="0.5"/>
<text x="142.70" y="479.30" font-size="6.5" fill="#3a3a3a" textLength="52.50" lengthAdjust="spacingAndGlyphs">Liso-cel no change</text>
<rect x="61.10" y="486.90" width="4.40" height="4.40" fill="#e88e80" stroke="rgba(0,0,0,0.3)" stroke-width="0.5"/>
<text x="70.60" y="491.40" font-size="6.5" fill="#3a3a3a" textLength="51.80" lengthAdjust="spacingAndGlyphs">SOC deterioration</text>
<rect x="133.80" y="486.90" width="4.40" height="4.40" fill="#cc0429" stroke="rgba(0,0,0,0.3)" stroke-width="0.5"/>
<text x="142.70" y="491.40" font-size="6.5" fill="#3a3a3a" textLength="58.30" lengthAdjust="spacingAndGlyphs">Liso-cel deterioration</text>
<line x1="24.00" y1="513.10" x2="24.00" y2="557.40" stroke="#8c8c8c" stroke-width="1.2"/>
<line x1="24.00" y1="565.30" x2="24.00" y2="609.60" stroke="#8c8c8c" stroke-width="1.2"/>
<path d="M22.40 513.60 L24.00 510.50 L25.60 513.60 Z" fill="#111"/>
<path d="M22.40 609.20 L24.00 612.30 L25.60 609.20 Z" fill="#111"/>
<text x="16.80" y="533.70" font-size="8.6" fill="#222" stroke="#222" stroke-width="0.35" text-anchor="middle" textLength="54.4" lengthAdjust="spacingAndGlyphs" transform="rotate(-90 16.80 533.70)">Stable/Improvement</text>
<text x="16.80" y="588.60" font-size="8.6" fill="#222" stroke="#222" stroke-width="0.35" text-anchor="middle" textLength="34.2" lengthAdjust="spacingAndGlyphs" transform="rotate(-90 16.80 588.60)">Deterioration</text>
<rect x="32.42" y="537.25" width="13.25" height="23.90" fill="#fddf9c"/>
<rect x="32.42" y="508.03" width="13.25" height="29.22" fill="#b2d89e"/>
<rect x="32.42" y="561.15" width="13.25" height="13.94" fill="#e88e80"/>
<text x="39.05" y="550.55" font-size="5.75" fill="#262626" text-anchor="middle" stroke="#262626" stroke-width="0.12">36%</text>
<text x="39.05" y="523.99" font-size="5.75" fill="#262626" text-anchor="middle" stroke="#262626" stroke-width="0.12">44%</text>
<text x="39.05" y="569.47" font-size="5.75" fill="#262626" text-anchor="middle" stroke="#262626" stroke-width="0.12">21%</text>
<text x="39.05" y="506.53" font-size="5.75" fill="#2e2e2e" text-anchor="middle" stroke="#2e2e2e" stroke-width="0.12">80%</text>
<rect x="52.29" y="535.25" width="13.25" height="25.90" fill="#f9bf0a"/>
<rect x="52.29" y="506.04" width="13.25" height="29.22" fill="#30ae2c"/>
<rect x="52.29" y="561.15" width="13.25" height="11.29" fill="#cc0429"/>
<text x="58.91" y="549.55" font-size="5.75" fill="#2e2400" text-anchor="middle" stroke="#2e2400" stroke-width="0.12">39%</text>
<text x="58.91" y="522.00" font-size="5.75" fill="#133a13" text-anchor="middle" stroke="#133a13" stroke-width="0.12">44%</text>
<text x="58.91" y="568.14" font-size="5.75" fill="#ffffff" text-anchor="middle" stroke="#ffffff" stroke-width="0.12">17%</text>
<text x="58.91" y="504.54" font-size="5.75" fill="#2e2e2e" text-anchor="middle" stroke="#2e2e2e" stroke-width="0.12">83%</text>
<rect x="92.22" y="537.25" width="13.25" height="23.90" fill="#fddf9c"/>
<rect x="92.22" y="504.05" width="13.25" height="33.20" fill="#b2d89e"/>
<rect x="92.22" y="561.15" width="13.25" height="9.30" fill="#e88e80"/>
<text x="98.84" y="550.55" font-size="5.75" fill="#262626" text-anchor="middle" stroke="#262626" stroke-width="0.12">36%</text>
<text x="98.84" y="522.00" font-size="5.75" fill="#262626" text-anchor="middle" stroke="#262626" stroke-width="0.12">50%</text>
<text x="98.84" y="567.15" font-size="5.75" fill="#262626" text-anchor="middle" stroke="#262626" stroke-width="0.12">14%</text>
<text x="98.84" y="502.55" font-size="5.75" fill="#2e2e2e" text-anchor="middle" stroke="#2e2e2e" stroke-width="0.12">86%</text>
<rect x="112.22" y="537.91" width="13.25" height="23.24" fill="#f9bf0a"/>
<rect x="112.22" y="504.05" width="13.25" height="33.86" fill="#30ae2c"/>
<rect x="112.22" y="561.15" width="13.25" height="9.30" fill="#cc0429"/>
<text x="118.84" y="550.88" font-size="5.75" fill="#2e2400" text-anchor="middle" stroke="#2e2400" stroke-width="0.12">35%</text>
<text x="118.84" y="522.33" font-size="5.75" fill="#133a13" text-anchor="middle" stroke="#133a13" stroke-width="0.12">51%</text>
<text x="118.84" y="567.15" font-size="5.75" fill="#ffffff" text-anchor="middle" stroke="#ffffff" stroke-width="0.12">14%</text>
<text x="118.84" y="502.55" font-size="5.75" fill="#2e2e2e" text-anchor="middle" stroke="#2e2e2e" stroke-width="0.12">86%</text>
<rect x="152.22" y="547.87" width="13.25" height="13.28" fill="#fddf9c"/>
<rect x="152.22" y="514.67" width="13.25" height="33.20" fill="#b2d89e"/>
<rect x="152.22" y="561.15" width="13.25" height="19.92" fill="#e88e80"/>
<text x="158.84" y="555.86" font-size="5.75" fill="#262626" text-anchor="middle" stroke="#262626" stroke-width="0.12">20%</text>
<text x="158.84" y="532.62" font-size="5.75" fill="#262626" text-anchor="middle" stroke="#262626" stroke-width="0.12">50%</text>
<text x="158.84" y="572.46" font-size="5.75" fill="#262626" text-anchor="middle" stroke="#262626" stroke-width="0.12">30%</text>
<text x="158.84" y="513.17" font-size="5.75" fill="#2e2e2e" text-anchor="middle" stroke="#2e2e2e" stroke-width="0.12">70%</text>
<rect x="171.82" y="543.22" width="13.25" height="17.93" fill="#f9bf0a"/>
<rect x="171.82" y="504.71" width="13.25" height="38.51" fill="#30ae2c"/>
<rect x="171.82" y="561.15" width="13.25" height="9.96" fill="#cc0429"/>
<text x="178.44" y="553.54" font-size="5.75" fill="#2e2400" text-anchor="middle" stroke="#2e2400" stroke-width="0.12">27%</text>
<text x="178.44" y="525.32" font-size="5.75" fill="#133a13" text-anchor="middle" stroke="#133a13" stroke-width="0.12">58%</text>
<text x="178.44" y="567.48" font-size="5.75" fill="#ffffff" text-anchor="middle" stroke="#ffffff" stroke-width="0.12">15%</text>
<text x="178.44" y="503.21" font-size="5.75" fill="#2e2e2e" text-anchor="middle" stroke="#2e2e2e" stroke-width="0.12">85%</text>
<rect x="211.42" y="523.30" width="13.25" height="37.85" fill="#fddf9c"/>
<rect x="211.42" y="561.15" width="13.25" height="28.55" fill="#e88e80"/>
<text x="218.04" y="543.58" font-size="5.75" fill="#262626" text-anchor="middle" stroke="#262626" stroke-width="0.12">57%</text>
<text x="218.04" y="576.78" font-size="5.75" fill="#262626" text-anchor="middle" stroke="#262626" stroke-width="0.12">43%</text>
<text x="218.04" y="521.80" font-size="5.75" fill="#2e2e2e" text-anchor="middle" stroke="#2e2e2e" stroke-width="0.12">57%</text>
<rect x="231.42" y="541.89" width="13.25" height="19.26" fill="#f9bf0a"/>
<rect x="231.42" y="514.67" width="13.25" height="27.22" fill="#30ae2c"/>
<rect x="231.42" y="561.15" width="13.25" height="19.26" fill="#cc0429"/>
<text x="238.04" y="552.87" font-size="5.75" fill="#2e2400" text-anchor="middle" stroke="#2e2400" stroke-width="0.12">29%</text>
<text x="238.04" y="529.63" font-size="5.75" fill="#133a13" text-anchor="middle" stroke="#133a13" stroke-width="0.12">41%</text>
<text x="238.04" y="572.13" font-size="5.75" fill="#ffffff" text-anchor="middle" stroke="#ffffff" stroke-width="0.12">29%</text>
<text x="238.04" y="513.17" font-size="5.75" fill="#2e2e2e" text-anchor="middle" stroke="#2e2e2e" stroke-width="0.12">70%</text>
<rect x="29.20" y="560.70" width="219.00" height="1.40" fill="#1a1a1a"/>
<text x="54.70" y="624.30" font-size="5.6" fill="#111" text-anchor="middle" font-weight="bold" textLength="17.80" lengthAdjust="spacingAndGlyphs">Day 29</text>
<text x="45.40" y="630.70" font-size="5.6" fill="#444" text-anchor="middle" stroke="#444" stroke-width="0.12">39</text>
<text x="64.60" y="630.70" font-size="5.6" fill="#444" text-anchor="middle" stroke="#444" stroke-width="0.12">41</text>
<text x="116.60" y="624.30" font-size="5.6" fill="#111" text-anchor="middle" font-weight="bold" textLength="17.80" lengthAdjust="spacingAndGlyphs">Day 64</text>
<text x="106.15" y="630.70" font-size="5.6" fill="#444" text-anchor="middle" stroke="#444" stroke-width="0.12">36</text>
<text x="124.90" y="630.70" font-size="5.6" fill="#444" text-anchor="middle" stroke="#444" stroke-width="0.12">37</text>
<text x="175.30" y="624.30" font-size="5.6" fill="#111" text-anchor="middle" font-weight="bold" textLength="20.10" lengthAdjust="spacingAndGlyphs">Day 126</text>
<text x="165.20" y="630.70" font-size="5.6" fill="#444" text-anchor="middle" stroke="#444" stroke-width="0.12">10</text>
<text x="184.40" y="630.70" font-size="5.6" fill="#444" text-anchor="middle" stroke="#444" stroke-width="0.12">26</text>
<text x="239.90" y="624.30" font-size="5.6" fill="#111" text-anchor="middle" font-weight="bold" textLength="21.20" lengthAdjust="spacingAndGlyphs">Month 6</text>
<text x="228.70" y="630.70" font-size="5.6" fill="#444" text-anchor="middle" stroke="#444" stroke-width="0.12">7</text>
<text x="248.40" y="630.70" font-size="5.6" fill="#444" text-anchor="middle" stroke="#444" stroke-width="0.12">17</text>
<text x="31.50" y="630.70" font-size="5.6" fill="#444" stroke="#444" stroke-width="0.12">N</text>
<text x="267.70" y="441.00" font-size="11.2" fill="#000" font-weight="bold">F</text>
<text x="400.00" y="455.60" font-size="9.3" fill="#1a1a1a" text-anchor="middle" textLength="43.00" lengthAdjust="spacingAndGlyphs">FACT-LymS</text>
<rect x="329.80" y="462.80" width="4.40" height="4.40" fill="#b2d89e" stroke="rgba(0,0,0,0.3)" stroke-width="0.5"/>
<text x="339.30" y="467.30" font-size="6.5" fill="#3a3a3a" textLength="52.50" lengthAdjust="spacingAndGlyphs">SOC improvement</text>
<rect x="402.50" y="462.80" width="4.40" height="4.40" fill="#30ae2c" stroke="rgba(0,0,0,0.3)" stroke-width="0.5"/>
<text x="411.40" y="467.30" font-size="6.5" fill="#3a3a3a" textLength="59.20" lengthAdjust="spacingAndGlyphs">Liso-cel improvement</text>
<rect x="329.80" y="474.90" width="4.40" height="4.40" fill="#fddf9c" stroke="rgba(0,0,0,0.3)" stroke-width="0.5"/>
<text x="339.30" y="479.40" font-size="6.5" fill="#3a3a3a" textLength="46.20" lengthAdjust="spacingAndGlyphs">SOC no change</text>
<rect x="402.50" y="474.90" width="4.40" height="4.40" fill="#f9bf0a" stroke="rgba(0,0,0,0.3)" stroke-width="0.5"/>
<text x="411.40" y="479.40" font-size="6.5" fill="#3a3a3a" textLength="52.50" lengthAdjust="spacingAndGlyphs">Liso-cel no change</text>
<rect x="329.80" y="487.00" width="4.40" height="4.40" fill="#e88e80" stroke="rgba(0,0,0,0.3)" stroke-width="0.5"/>
<text x="339.30" y="491.50" font-size="6.5" fill="#3a3a3a" textLength="51.80" lengthAdjust="spacingAndGlyphs">SOC deterioration</text>
<rect x="402.50" y="487.00" width="4.40" height="4.40" fill="#cc0429" stroke="rgba(0,0,0,0.3)" stroke-width="0.5"/>
<text x="411.40" y="491.50" font-size="6.5" fill="#3a3a3a" textLength="58.30" lengthAdjust="spacingAndGlyphs">Liso-cel deterioration</text>
<line x1="292.24" y1="512.90" x2="292.24" y2="557.20" stroke="#8c8c8c" stroke-width="1.2"/>
<line x1="292.24" y1="565.10" x2="292.24" y2="609.40" stroke="#8c8c8c" stroke-width="1.2"/>
<path d="M290.64 513.40 L292.24 510.30 L293.84 513.40 Z" fill="#111"/>
<path d="M290.64 609.00 L292.24 612.10 L293.84 609.00 Z" fill="#111"/>
<text x="285.04" y="533.50" font-size="8.6" fill="#222" stroke="#222" stroke-width="0.35" text-anchor="middle" textLength="54.4" lengthAdjust="spacingAndGlyphs" transform="rotate(-90 285.04 533.50)">Stable/Improvement</text>
<text x="285.04" y="588.40" font-size="8.6" fill="#222" stroke="#222" stroke-width="0.35" text-anchor="middle" textLength="34.2" lengthAdjust="spacingAndGlyphs" transform="rotate(-90 285.04 588.40)">Deterioration</text>
<rect x="300.92" y="534.39" width="13.25" height="26.56" fill="#fddf9c"/>
<rect x="300.92" y="521.11" width="13.25" height="13.28" fill="#b2d89e"/>
<rect x="300.92" y="560.95" width="13.25" height="26.56" fill="#e88e80"/>
<text x="307.55" y="549.02" font-size="5.75" fill="#262626" text-anchor="middle" stroke="#262626" stroke-width="0.12">40%</text>
<text x="307.55" y="529.10" font-size="5.75" fill="#262626" text-anchor="middle" stroke="#262626" stroke-width="0.12">20%</text>
<text x="307.55" y="575.58" font-size="5.75" fill="#262626" text-anchor="middle" stroke="#262626" stroke-width="0.12">40%</text>
<text x="307.55" y="519.61" font-size="5.75" fill="#2e2e2e" text-anchor="middle" stroke="#2e2e2e" stroke-width="0.12">60%</text>
<rect x="320.52" y="538.37" width="13.25" height="22.58" fill="#f9bf0a"/>
<rect x="320.52" y="519.12" width="13.25" height="19.26" fill="#30ae2c"/>
<rect x="320.52" y="560.95" width="13.25" height="24.57" fill="#cc0429"/>
<text x="327.15" y="551.01" font-size="5.75" fill="#2e2400" text-anchor="middle" stroke="#2e2400" stroke-width="0.12">34%</text>
<text x="327.15" y="530.10" font-size="5.75" fill="#133a13" text-anchor="middle" stroke="#133a13" stroke-width="0.12">29%</text>
<text x="327.15" y="574.58" font-size="5.75" fill="#ffffff" text-anchor="middle" stroke="#ffffff" stroke-width="0.12">37%</text>
<text x="327.15" y="517.62" font-size="5.75" fill="#2e2e2e" text-anchor="middle" stroke="#2e2e2e" stroke-width="0.12">63%</text>
<rect x="360.22" y="537.05" width="13.25" height="23.90" fill="#fddf9c"/>
<rect x="360.22" y="509.16" width="13.25" height="27.89" fill="#b2d89e"/>
<rect x="360.22" y="560.95" width="13.25" height="13.94" fill="#e88e80"/>
<text x="366.85" y="550.35" font-size="5.75" fill="#262626" text-anchor="middle" stroke="#262626" stroke-width="0.12">36%</text>
<text x="366.85" y="524.45" font-size="5.75" fill="#262626" text-anchor="middle" stroke="#262626" stroke-width="0.12">42%</text>
<text x="366.85" y="569.27" font-size="5.75" fill="#262626" text-anchor="middle" stroke="#262626" stroke-width="0.12">21%</text>
<text x="366.85" y="507.66" font-size="5.75" fill="#2e2e2e" text-anchor="middle" stroke="#2e2e2e" stroke-width="0.12">78%</text>
<rect x="380.32" y="537.05" width="13.25" height="23.90" fill="#f9bf0a"/>
<rect x="380.32" y="515.13" width="13.25" height="21.91" fill="#30ae2c"/>
<rect x="380.32" y="560.95" width="13.25" height="20.58" fill="#cc0429"/>
<text x="386.95" y="550.35" font-size="5.75" fill="#2e2400" text-anchor="middle" stroke="#2e2400" stroke-width="0.12">36%</text>
<text x="386.95" y="527.44" font-size="5.75" fill="#133a13" text-anchor="middle" stroke="#133a13" stroke-width="0.12">33%</text>
<text x="386.95" y="572.59" font-size="5.75" fill="#ffffff" text-anchor="middle" stroke="#ffffff" stroke-width="0.12">31%</text>
<text x="386.95" y="513.63" font-size="5.75" fill="#2e2e2e" text-anchor="middle" stroke="#2e2e2e" stroke-width="0.12">69%</text>
<rect x="420.22" y="554.31" width="13.25" height="6.64" fill="#fddf9c"/>
<rect x="420.22" y="507.83" width="13.25" height="46.48" fill="#b2d89e"/>
<rect x="420.22" y="560.95" width="13.25" height="13.28" fill="#e88e80"/>
<text x="426.85" y="558.98" font-size="5.75" fill="#262626" text-anchor="middle" stroke="#262626" stroke-width="0.12">10%</text>
<text x="426.85" y="532.42" font-size="5.75" fill="#262626" text-anchor="middle" stroke="#262626" stroke-width="0.12">70%</text>
<text x="426.85" y="568.94" font-size="5.75" fill="#262626" text-anchor="middle" stroke="#262626" stroke-width="0.12">20%</text>
<text x="426.85" y="506.33" font-size="5.75" fill="#2e2e2e" text-anchor="middle" stroke="#2e2e2e" stroke-width="0.12">80%</text>
<rect x="440.02" y="531.73" width="13.25" height="29.22" fill="#f9bf0a"/>
<rect x="440.02" y="502.52" width="13.25" height="29.22" fill="#30ae2c"/>
<rect x="440.02" y="560.95" width="13.25" height="7.97" fill="#cc0429"/>
<text x="446.65" y="547.69" font-size="5.75" fill="#2e2400" text-anchor="middle" stroke="#2e2400" stroke-width="0.12">44%</text>
<text x="446.65" y="518.48" font-size="5.75" fill="#133a13" text-anchor="middle" stroke="#133a13" stroke-width="0.12">44%</text>
<text x="446.65" y="566.28" font-size="5.75" fill="#ffffff" text-anchor="middle" stroke="#ffffff" stroke-width="0.12">12%</text>
<text x="446.65" y="501.02" font-size="5.75" fill="#2e2e2e" text-anchor="middle" stroke="#2e2e2e" stroke-width="0.12">88%</text>
<rect x="479.82" y="541.69" width="13.25" height="19.26" fill="#fddf9c"/>
<rect x="479.82" y="513.14" width="13.25" height="28.55" fill="#b2d89e"/>
<rect x="479.82" y="560.95" width="13.25" height="19.26" fill="#e88e80"/>
<text x="486.45" y="552.67" font-size="5.75" fill="#262626" text-anchor="middle" stroke="#262626" stroke-width="0.12">29%</text>
<text x="486.45" y="528.77" font-size="5.75" fill="#262626" text-anchor="middle" stroke="#262626" stroke-width="0.12">43%</text>
<text x="486.45" y="571.93" font-size="5.75" fill="#262626" text-anchor="middle" stroke="#262626" stroke-width="0.12">29%</text>
<text x="486.45" y="511.64" font-size="5.75" fill="#2e2e2e" text-anchor="middle" stroke="#2e2e2e" stroke-width="0.12">72%</text>
<rect x="499.22" y="541.69" width="13.25" height="19.26" fill="#f9bf0a"/>
<rect x="499.22" y="510.49" width="13.25" height="31.21" fill="#30ae2c"/>
<rect x="499.22" y="560.95" width="13.25" height="15.94" fill="#cc0429"/>
<text x="505.85" y="552.67" font-size="5.75" fill="#2e2400" text-anchor="middle" stroke="#2e2400" stroke-width="0.12">29%</text>
<text x="505.85" y="527.44" font-size="5.75" fill="#133a13" text-anchor="middle" stroke="#133a13" stroke-width="0.12">47%</text>
<text x="505.85" y="570.27" font-size="5.75" fill="#ffffff" text-anchor="middle" stroke="#ffffff" stroke-width="0.12">24%</text>
<text x="505.85" y="508.99" font-size="5.75" fill="#2e2e2e" text-anchor="middle" stroke="#2e2e2e" stroke-width="0.12">76%</text>
<rect x="297.74" y="560.50" width="219.00" height="1.40" fill="#1a1a1a"/>
<text x="323.40" y="624.30" font-size="5.6" fill="#111" text-anchor="middle" font-weight="bold" textLength="17.80" lengthAdjust="spacingAndGlyphs">Day 29</text>
<text x="314.10" y="630.70" font-size="5.6" fill="#444" text-anchor="middle" stroke="#444" stroke-width="0.12">39</text>
<text x="333.30" y="630.70" font-size="5.6" fill="#444" text-anchor="middle" stroke="#444" stroke-width="0.12">41</text>
<text x="385.30" y="624.30" font-size="5.6" fill="#111" text-anchor="middle" font-weight="bold" textLength="17.80" lengthAdjust="spacingAndGlyphs">Day 64</text>
<text x="374.85" y="630.70" font-size="5.6" fill="#444" text-anchor="middle" stroke="#444" stroke-width="0.12">36</text>
<text x="393.60" y="630.70" font-size="5.6" fill="#444" text-anchor="middle" stroke="#444" stroke-width="0.12">37</text>
<text x="444.00" y="624.30" font-size="5.6" fill="#111" text-anchor="middle" font-weight="bold" textLength="20.10" lengthAdjust="spacingAndGlyphs">Day 126</text>
<text x="433.90" y="630.70" font-size="5.6" fill="#444" text-anchor="middle" stroke="#444" stroke-width="0.12">10</text>
<text x="453.10" y="630.70" font-size="5.6" fill="#444" text-anchor="middle" stroke="#444" stroke-width="0.12">26</text>
<text x="508.60" y="624.30" font-size="5.6" fill="#111" text-anchor="middle" font-weight="bold" textLength="21.20" lengthAdjust="spacingAndGlyphs">Month 6</text>
<text x="497.40" y="630.70" font-size="5.6" fill="#444" text-anchor="middle" stroke="#444" stroke-width="0.12">7</text>
<text x="517.10" y="630.70" font-size="5.6" fill="#444" text-anchor="middle" stroke="#444" stroke-width="0.12">17</text>
<text x="300.20" y="630.70" font-size="5.6" fill="#444" stroke="#444" stroke-width="0.12">N</text>
<text x="84.60" y="296.30" font-size="5.6" fill="#333" text-anchor="middle">3%</text>
<line x1="88.6" y1="295.4" x2="92.4" y2="295.8" stroke="#555" stroke-width="0.6"/>
<circle cx="108.8" cy="287.3" r="0.75" fill="#333"/>
<circle cx="314.4" cy="294.4" r="0.8" fill="#222"/>
<circle cx="314.9" cy="396.6" r="0.8" fill="#222"/>
</g>
<use href="#cc" transform="translate(0.5,0.5)" opacity="0.45"/>
</svg></div>
</body></html>
